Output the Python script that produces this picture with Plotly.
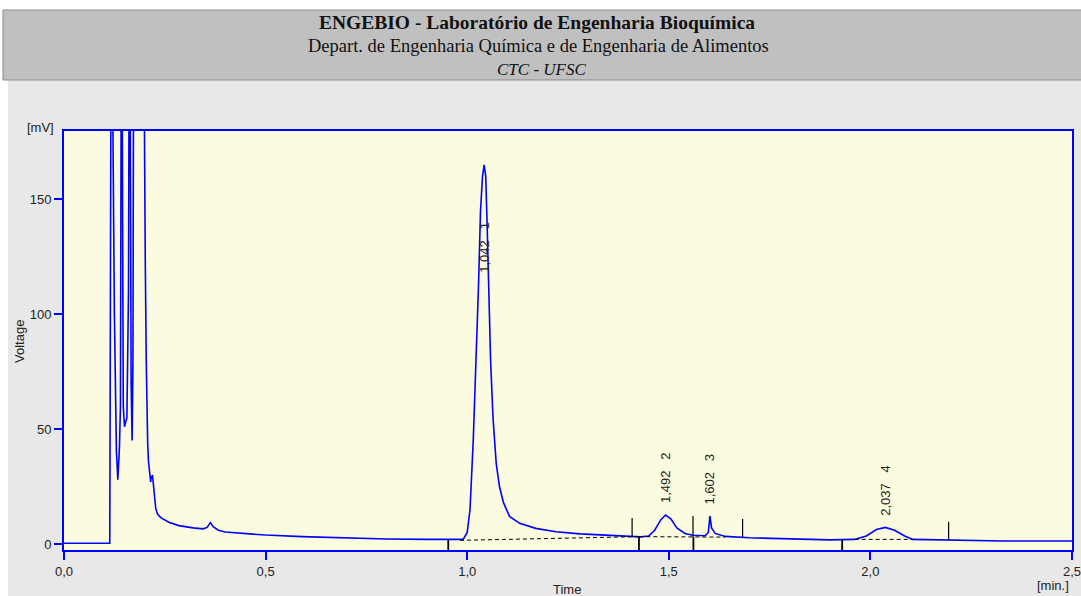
import plotly.graph_objects as go

# ---------------- data ----------------
time_min = [0.000, 0.1135, 0.1145, 0.1165, 0.1200, 0.1250, 0.1300, 0.1335, 0.1375, 0.1400,
            0.1420, 0.1440, 0.1470, 0.1500, 0.1560, 0.1600, 0.1615, 0.1640, 0.1665, 0.1690,
            0.1710, 0.1725, 0.1985, 0.2000, 0.2015, 0.2040, 0.2055, 0.2075, 0.2095, 0.2125,
            0.2150, 0.2165, 0.2180, 0.2195, 0.2215, 0.2245, 0.2275, 0.2320, 0.2400, 0.2600,
            0.2850, 0.3200, 0.3450, 0.3550, 0.3630, 0.3700, 0.3830, 0.4000, 0.4500, 0.5000,
            0.5900, 0.7000, 0.8000, 0.9000, 0.9700, 0.9900, 1.0000, 1.0070, 1.0150, 1.0220,
            1.0280, 1.0330, 1.0380, 1.0420, 1.0460, 1.0500, 1.0540, 1.0580, 1.0640, 1.0720,
            1.0800, 1.0900, 1.1050, 1.1300, 1.1700, 1.2200, 1.2800, 1.3600, 1.4300, 1.4500,
            1.4650, 1.4800, 1.4920, 1.5050, 1.5200, 1.5400, 1.5600, 1.5900, 1.5980, 1.6020,
            1.6060, 1.6150, 1.6400, 1.7000, 1.8000, 1.9000, 1.9600, 1.9900, 2.0150, 2.0370,
            2.0600, 2.0850, 2.1050, 2.2000, 2.3200, 2.3300, 2.5000]
voltage_mv = [0.3, 0.3, 62, 210, 210, 100, 40, 28, 42, 60,
              210, 210, 60, 51, 55, 110, 210, 210, 70, 45,
              80, 210, 210, 140, 125, 80, 56, 44, 36, 29,
              27, 29.5, 29, 30, 27, 20, 15.5, 13, 11.5, 9.5,
              8, 7.0, 6.6, 7.2, 9.3, 7.5, 6.0, 5.2, 4.4, 3.9,
              3.2, 2.6, 2.2, 2.0, 1.8, 2.0, 5, 15, 45, 80,
              112, 145, 160, 165, 160, 135, 105, 80, 55, 35,
              25, 18, 12, 9, 6.8, 5.3, 4.4, 3.6, 3.1, 3.5,
              6, 10.5, 12.6, 11, 7, 4.6, 3.8, 3.6, 5, 12.2,
              7, 4.6, 3.3, 2.7, 2.2, 1.8, 2.0, 3.5, 6.3, 7.2,
              6, 3.5, 2.0, 1.7, 1.6, 1.3, 1.3]

peak_rt = [1.042, 1.492, 1.602, 2.037]
peak_no = [1, 2, 3, 4]
peak_label_base = [117, 17, 16.5, 11.3]   # mV where the rotated label starts

# integration events (min) and their baselines (mV)
event_above_t = [1.409, 1.560, 1.683, 2.194]
event_above_v = [3.0, 3.0, 3.0, 1.7]
event_above_top = [11.3, 12.2, 10.9, 9.7]
event_below_t = [0.953, 1.426, 1.561, 1.930]
event_below_v = [1.7, 3.0, 3.0, 1.7]

baseline_t = [[0.982, 1.427], [1.427, 1.640], [1.961, 2.106]]
baseline_v = [[1.6, 3.2], [3.2, 3.0], [2.0, 2.0]]

x_ticks = [0.0, 0.5, 1.0, 1.5, 2.0, 2.5]
x_ticktext = ["0,0", "0,5", "1,0", "1,5", "2,0", "2,5"]
y_ticks = [0, 50, 100, 150]

header_lines = ["ENGEBIO - Laboratório de Engenharia Bioquímica",
                "Depart. de Engenharia Química e de Engenharia de Alimentos",
                "CTC - UFSC"]

# ---------------- figure ----------------
W, H = 1081, 596
L, R, T, B = 64, 9, 131, 46
pw, ph = W - L - R, H - T - B
YMIN, YMAX = -2.61, 179.7


def px_x(px):
    return (px - L) / pw


def px_y(py):
    return (H - B - py) / ph


fig = go.Figure()

fig.add_trace(go.Scatter(x=time_min, y=voltage_mv, mode="lines",
                         line=dict(color="#0000ff", width=1.6),
                         hoverinfo="skip", showlegend=False))

# dashed baselines
for bt, bv in zip(baseline_t, baseline_v):
    fig.add_trace(go.Scatter(x=bt, y=bv, mode="lines",
                             line=dict(color="#000000", width=1, dash="4px,3px"),
                             hoverinfo="skip", showlegend=False))

# event marks above the baseline
ex, ey = [], []
for t, v, top in zip(event_above_t, event_above_v, event_above_top):
    ex += [t, t, None]
    ey += [v, top, None]
fig.add_trace(go.Scatter(x=ex, y=ey, mode="lines", line=dict(color="#000000", width=1.2),
                         hoverinfo="skip", showlegend=False))
# event marks below (down to axis)
ex, ey = [], []
for t, v in zip(event_below_t, event_below_v):
    ex += [t, t, None]
    ey += [v, YMIN, None]
fig.add_trace(go.Scatter(x=ex, y=ey, mode="lines", line=dict(color="#000000", width=1.8),
                         hoverinfo="skip", showlegend=False))

annotations = []
NB = "\u00a0"
for rt, no, base in zip(peak_rt, peak_no, peak_label_base):
    txt = f"{rt:.3f}".replace(".", ",") + NB * 3 + str(no)
    annotations.append(dict(x=rt, y=base, xref="x", yref="y", text=txt, textangle=-90,
                            showarrow=False, xanchor="center", yanchor="bottom",
                            font=dict(family="Liberation Sans", size=13, color="#222222")))

serif = "Liberation Serif"
annotations += [
    dict(x=px_x(537), xref="paper", y=px_y(22), yref="paper", text="<b>" + header_lines[0] + "</b>",
         showarrow=False, font=dict(family=serif, size=19.5, color="#111111"),
         xanchor="center", yanchor="middle"),
    dict(x=px_x(538), xref="paper", y=px_y(46), yref="paper", text=header_lines[1],
         showarrow=False, font=dict(family=serif, size=18.5, color="#111111"),
         xanchor="center", yanchor="middle"),
    dict(x=px_x(541), xref="paper", y=px_y(69), yref="paper", text="<i>" + header_lines[2] + "</i>",
         showarrow=False, font=dict(family=serif, size=17, color="#111111"),
         xanchor="center", yanchor="middle"),
    dict(x=px_x(40), xref="paper", y=px_y(128), yref="paper", text="[mV]",
         showarrow=False, font=dict(family="Liberation Sans", size=13, color="#222222"),
         xanchor="center", yanchor="middle"),
    dict(x=px_x(19), xref="paper", y=px_y(342), yref="paper", text="Voltage", textangle=-90,
         showarrow=False, font=dict(family="Liberation Sans", size=13, color="#222222"),
         xanchor="center", yanchor="middle"),
    dict(x=px_x(567), xref="paper", y=px_y(589), yref="paper", text="Time",
         showarrow=False, font=dict(family="Liberation Sans", size=13, color="#222222"),
         xanchor="center", yanchor="middle"),
    dict(x=px_x(1071), xref="paper", y=px_y(585), yref="paper", text="[min.]",
         showarrow=False, font=dict(family="Liberation Sans", size=13, color="#222222"),
         xanchor="right", yanchor="middle"),
]

shapes = [
    # white margins of the page
    dict(type="rect", xref="paper", yref="paper", x0=px_x(0), x1=px_x(W), y0=px_y(0), y1=px_y(10),
         fillcolor="#ffffff", line=dict(width=0), layer="below"),
    dict(type="rect", xref="paper", yref="paper", x0=px_x(0), x1=px_x(8), y0=px_y(0), y1=px_y(H),
         fillcolor="#ffffff", line=dict(width=0), layer="below"),
    # header band
    dict(type="rect", xref="paper", yref="paper", x0=px_x(3), x1=px_x(W + 2), y0=px_y(80), y1=px_y(10),
         fillcolor="#c0c0c0", line=dict(color="#8a8a8a", width=1), layer="below"),
]

fig.update_layout(
    width=W, height=H,
    margin=dict(l=L, r=R, t=T, b=B, pad=0, autoexpand=False),
    paper_bgcolor="#e8e8e8",
    plot_bgcolor="#fbfbe0",
    showlegend=False,
    annotations=annotations,
    shapes=shapes,
    xaxis=dict(range=[0, 2.5], tickvals=x_ticks, ticktext=x_ticktext, automargin=False,
               ticklabeloverflow="allow",
               showgrid=False, zeroline=False, showline=True, mirror=True,
               linecolor="#0000ff", linewidth=2, ticks="outside", ticklen=8,
               tickwidth=2, tickcolor="#0000ff",
               tickfont=dict(family="Liberation Sans", size=13, color="#222222")),
    yaxis=dict(range=[YMIN, YMAX], tickvals=y_ticks, automargin=False,
               showgrid=False, zeroline=False, showline=True, mirror=True,
               linecolor="#0000ff", linewidth=2, ticks="outside", ticklen=8,
               tickwidth=2, tickcolor="#0000ff",
               tickfont=dict(family="Liberation Sans", size=13, color="#222222")),
)

fig.write_html("out.html")
